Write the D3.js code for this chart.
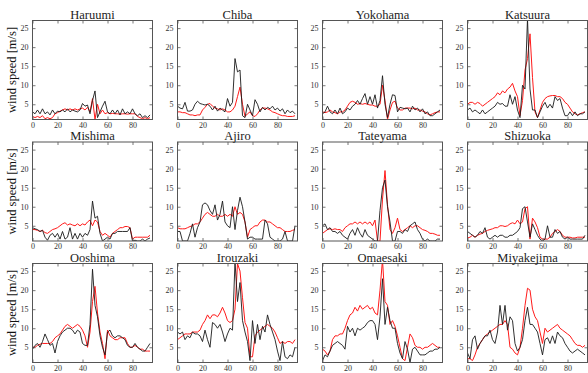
<!DOCTYPE html>
<html>
<head>
<meta charset="utf-8">
<script src="https://cdn.jsdelivr.net/npm/d3@7"></script>
<style>
  html, body { margin: 0; padding: 0; background: #fff; }
  svg { display: block; }
</style>
</head>
<body>
<svg id="chart" width="588" height="373"></svg>
<script>
// Time index (hours), sampled every 2 steps
const hours = [0,2,4,6,8,10,12,14,16,18,20,22,24,26,28,30,32,34,36,38,40,42,44,46,
               48,50,52,54,56,58,60,62,64,66,68,70,72,74,76,78,80,82,84,86,88,90,92,94];

const stations = ["Haruumi","Chiba","Yokohama","Katsuura","Mishima","Ajiro",
                  "Tateyama","Shizuoka","Ooshima","Irouzaki","Omaesaki","Miyakejima"];

const xTicks = [0, 20, 40, 60, 80];
const yTicks = [5, 10, 15, 20, 25];

// Observed wind speed (black)
const haruumiObs = [3,2.5,3.5,2.5,3.8,2.5,3,2.2,3.5,2.5,3.2,3,3.5,3,3.8,3,3.5,3.2,3,3.5,5.2,4.5,4.8,2.5,
                    6,8.5,1.5,3,4.5,5.8,3,2.5,3.5,2.5,3.5,2.2,3.8,2.5,3,2.5,3.8,2.5,2,2.5,1.5,2,1.5,2.2];
const chibaObs = [4.5,4,3.8,5.5,3.2,3.2,3.5,5,5.8,5.2,5,4.8,5,4.5,3.5,4.5,3.2,4,3.5,3,6.5,4.5,5.5,17,
                  13.5,14,2,1.5,5,3.5,2,6.2,5,3,4.2,3.5,4.2,3.8,4.5,3.5,4,3.2,3.8,2.5,3.5,2.8,3.2,2.5];
const yokohamaObs = [2.5,3,4.5,3,2.5,3.5,2.5,4,2.5,3,4,3.5,4.5,5,6,5,6.5,7.8,5,7,5,7.5,4,6,
                     12.5,5,1.5,5,7.5,7.3,3,4.2,4,3.8,4,3,4.5,3.5,4,3,3.8,2.5,3,2,2,2.5,3,3.5];
const katsuuraObs = [3.5,4,3,3.5,3,2.5,3.5,2.5,3,3.5,4,4.5,5.5,5,5.2,4.5,4.5,7.5,5,7,3.5,1.5,10,9,
                     27.5,9,3.5,3.5,1.5,3,4.5,5.5,4,5,4,7,6,6.5,4,2,2,3,2,3,2,2.5,2.5,3];
const mishimaObs = [4.5,4.2,4,3.5,3.8,2,1.2,2.5,3,2,3,1.5,3.5,1.5,2,4.5,1.5,3,1.5,3,2,3,2.5,4,
                    11.5,7,7.5,3,1,1.5,2,1.5,3,3,3.5,3.5,3.5,3.5,3.5,4.5,1,1.2,1,1,1.5,1,1.5,1.8];
const ajiroObs = [3.5,3.5,1,1,1,3,5.5,2,4.5,6,10.5,11,10.5,9,8,10.5,6.5,8,11.5,6,5,4.5,10,4,
                  9,12.5,10,6,1.5,2,2,1.5,1.5,1.5,1.5,6.5,5.5,2,1.5,1,1,1,1.5,3.5,1,1,1,5];
const tateyamaObs = [5,5.5,4,4.5,3.5,3.5,3,3.5,2.5,2,1.5,3,4,2.5,4.5,3,2,4,2.5,2,1.5,1,1,9,
                     15,17,10,6,1,1,3.5,3.5,3,4,3.5,5,5.5,6,4,3,1.5,1,1.5,1,1,1,1.5,1.5];
const shizuokaObs = [3.5,3,2.5,2,2.5,3.5,3,4.5,2,1.5,2,2.5,2,2.5,2.5,2,2,2.5,2.5,3,3.5,4.5,9.5,10,
                     6,2,5.5,4,2.5,1.5,1,1.5,5,2,2,4,3,3.5,2,1.5,2,1.5,1.5,1.5,1.5,1.5,1.5,2.5];
const ooshimaObs = [4.5,5.5,6,5,6.5,8.5,7,5.5,6,3.5,6.5,8,9,9.5,10,10,9.5,8.5,9.5,9,6,5.5,5.5,11,
                    25.5,16,13,8,5,3,9,9.5,8,7.5,8,8,7.5,7,5.5,5,5,6,5,4.5,4,4,5,6];
const irouzakiObs = [9,8.5,9,7,8,7.5,9,8.5,8.5,8,6.5,9.5,7,5,11.5,11,10,11,9,6.5,8.5,10,9.5,27.5,
                     17,22,12,9,6.5,1.5,12,6,11,7,10.5,9,13.5,11,9,7,4,1.5,6.5,2.5,2,3,2.5,5];
const omaesakiObs = [1.5,3,2.5,4,5.5,6,6.5,6,5.5,4.5,10.5,9,10,8,10,9.5,10,10.5,11.5,12,12,11,7,13,
                     23,11,15.5,12,10,10,6,3.5,2,6.5,4.5,1,4.5,5,4,3,3,3,3.5,4,4,4.5,4.5,5];
const miyakejimaObs = [3.5,2,7,8,4.5,6,7,8,8,9.5,7,6,9,16,11,16,9.5,13,12,6,4,5,7,12,
                       15.5,11,11,10,9,6,3,7,7.5,6,8,6,9,8,7.5,6,5,4,3.5,4,4.5,4,3.5,3];

// Simulated wind speed (red)
const haruumiSim = [1.8,1.5,1.8,1.5,2,1.2,1.5,1.2,1.5,2.5,2.8,3.2,3.5,3.8,3.5,3.8,3.5,3.8,3.5,3.8,4,3.5,4.2,3,
                    6.5,1,5,2.5,3.5,2.5,2.8,2.5,2.6,2.5,2.5,2.4,2.5,2.5,2.4,2.5,2.5,2.5,1.8,1.5,1.2,1.5,1.2,1.5];
const chibaSim = [3,3,2.8,2.8,2.5,2.2,2.2,2,2.2,2.2,3.5,4.2,5,5.2,4.5,4,3.8,3.5,3.8,3.5,3,3,3.5,4.5,
                  7,9.5,5,1.8,2.5,3,2,1.8,2.5,3.5,4,4,3.8,3.5,3,2.8,2.5,2.2,2,2,1.8,1.8,1.8,2];
const yokohamaSim = [3,2.8,3,3.5,3,2.8,2.5,3,3,3.5,4.5,5.5,5.8,5.5,5,5.2,5,5.2,5,4.8,4.8,4.5,4.5,5,
                     10,6,1,3.5,5.5,5.8,4,3.5,3.5,4,4,4,3.8,4,3.5,3.5,3.2,3,2.5,2.2,2.5,2.8,3,3];
const katsuuraSim = [5,5.5,5.5,5,5.5,5.2,4.5,5,5.5,6,6.5,7,8,7.5,8.5,8,9,9.5,10.5,8.5,7,2,6,14,
                     17,23.5,12,3,1.5,3.5,5.5,6.5,7,7.2,7.3,7.3,7,7,6.5,5.5,5,4,3,2.5,2.2,2.5,2.8,3];
const mishimaSim = [4,4,3.8,3.5,3.8,3.2,3,3.5,4,4.2,4.5,5,5.5,5.8,5.2,5.5,5.2,5,5.5,5,5.5,5.2,6,6.5,
                    5,6.5,6,3.5,2.5,3,2.5,2,3,3.5,4,4.5,4.5,4.8,4.8,4.5,1.5,2,2,2,2,2,2,2.5];
const ajiroSim = [4.5,4.2,4.2,4.2,4.5,4.8,5,5.5,5.5,6,7,8,8.5,8,7.5,7.5,8,7.5,7.5,8,7.5,8,7.5,10,
                  8,8.5,8,6,2,4,4.5,5,5,6,6.5,6.5,6,6,5.5,5,4.5,4.5,4,3.5,3.5,3.5,3.8,4];
const tateyamaSim = [3,3.5,4,4.2,4,4.2,4,4,3.5,4.5,5,5.5,5.5,6,5.5,6,5.5,6,5.5,6,5,6.5,1,1,
                     12,19.5,10.5,4,3,4.5,7,4,3.5,4,4.5,5,4.5,5,5,4.5,4,3.8,3.5,3,3,2.8,2.5,2.5];
const shizuokaSim = [1.8,2,2.5,2,2.5,2.8,3,3.5,3.8,4,4.2,4.5,4.5,5,5,4.8,5,5.5,5.8,5.5,6.5,5.5,6,9.5,
                     10,1.5,7,6,4.5,2,1.5,1.5,1.5,2,3,3.5,4,3.5,2.5,2,2,2,1.8,1.8,2,2,2,2];
const ooshimaSim = [5,5,5.5,5.8,6,6,6,6,6.5,7.5,8,8.5,9.5,10.5,11,10.5,10,10.5,11,10.5,9.5,8,5,9,
                    17,21,14,9,6,2,9.5,8,7.5,7,7,7.5,7.5,7.5,6,5,5,5.5,5,4.5,4.5,4,4,4];
const irouzakiSim = [7,7.5,8,8.5,8.5,8.5,9,9,9,9.5,11,12,13.5,12.5,13.5,13.5,13,14,15.5,14,12,11.5,12,15,
                     27,25,18,11.5,10,2.5,2.5,8,9,9.5,10,10.5,11,10.5,10,9,7.5,6,6.5,6,6.5,6.5,6,7];
const omaesakiSim = [4.5,4,3,4,7,8,8,8.5,8.5,10,12,13.5,14,15.5,14.5,16,15,15.5,16,15,15.5,14,13.5,20,
                     28,17,16,11,12,10.5,8,5,2,1.5,5,8.5,7.5,5.5,5,5,4.5,5,5,5.5,6,5.5,5,5];
const miyakejimaSim = [2,2,1.5,3,5,6,7,8,8.5,9,9.5,10,10.5,11,11,12,11,5,4.5,3.5,3,5,10,16,
                       20.5,20,15,13,12,9,6,10,9,9.5,10,10.5,11,10,9.5,9,8.5,8,7,6,5.5,5.5,5,5.5];

const observed = [haruumiObs, chibaObs, yokohamaObs, katsuuraObs, mishimaObs, ajiroObs,
                  tateyamaObs, shizuokaObs, ooshimaObs, irouzakiObs, omaesakiObs, miyakejimaObs];
const simulated = [haruumiSim, chibaSim, yokohamaSim, katsuuraSim, mishimaSim, ajiroSim,
                   tateyamaSim, shizuokaSim, ooshimaSim, irouzakiSim, omaesakiSim, miyakejimaSim];

// Layout of the 3 x 4 grid
const colLeft = [32.5, 177.5, 322.5, 467.5];
const rowTop = [20.5, 142, 263.5];
const panelW = 120, panelH = 99;
const serif = "'Liberation Serif', 'DejaVu Serif', serif";

const svg = d3.select("#chart");

const x = d3.scaleLinear().domain([0, 96]).range([0, panelW]);
const y = d3.scaleLinear().domain([1, 27]).range([panelH, 0]);

const line = d3.line().x((d, i) => x(hours[i])).y(d => y(d));

function styleAxis(a) {
  a.select(".domain").remove();
  a.attr("font-family", serif).attr("font-size", 8);
  a.selectAll(".tick line").attr("stroke", "#555").attr("stroke-width", 0.8);
  a.selectAll(".tick text").attr("fill", "#333");
}

stations.forEach((name, k) => {
  const r = Math.floor(k / 4), c = k % 4;
  const g = svg.append("g").attr("transform", `translate(${colLeft[c]},${rowTop[r]})`);

  const clipId = "clip" + k;
  g.append("clipPath").attr("id", clipId)
    .append("rect").attr("width", panelW).attr("height", panelH);

  const plot = g.append("g").attr("clip-path", `url(#${clipId})`);
  plot.append("path").datum(simulated[k])
    .attr("d", line).attr("fill", "none")
    .attr("stroke", "#ff1a1a").attr("stroke-width", 1).attr("stroke-linejoin", "round");
  plot.append("path").datum(observed[k])
    .attr("d", line).attr("fill", "none")
    .attr("stroke", "#1a1a1a").attr("stroke-width", 0.9).attr("stroke-linejoin", "round");

  // Axes with inward ticks on all four sides
  const tickLen = 3;
  g.append("g").attr("transform", `translate(0,${panelH})`)
    .call(d3.axisBottom(x).tickValues(xTicks).tickSize(-tickLen).tickPadding(2.5).tickFormat(d3.format("d")))
    .call(styleAxis);
  g.append("g")
    .call(d3.axisTop(x).tickValues(xTicks).tickSize(-tickLen).tickFormat(""))
    .call(styleAxis);
  g.append("g")
    .call(d3.axisLeft(y).tickValues(yTicks).tickSize(-tickLen).tickPadding(4).tickFormat(d3.format("d")))
    .call(styleAxis);
  g.append("g").attr("transform", `translate(${panelW},0)`)
    .call(d3.axisRight(y).tickValues(yTicks).tickSize(-tickLen).tickFormat(""))
    .call(styleAxis);

  g.append("rect").attr("width", panelW).attr("height", panelH)
    .attr("fill", "none").attr("stroke", "#555").attr("stroke-width", 1);

  g.append("text")
    .attr("x", panelW / 2).attr("y", -2).attr("text-anchor", "middle")
    .attr("font-family", serif).attr("font-size", 12.5).attr("fill", "#222")
    .text(name);

  if (c === 0) {
    g.append("text")
      .attr("transform", `translate(-17,${panelH / 2}) rotate(-90)`)
      .attr("text-anchor", "middle")
      .attr("font-family", serif).attr("font-size", 12.5).attr("fill", "#111")
      .text("wind speed [m/s]");
  }
});
</script>
</body>
</html>
